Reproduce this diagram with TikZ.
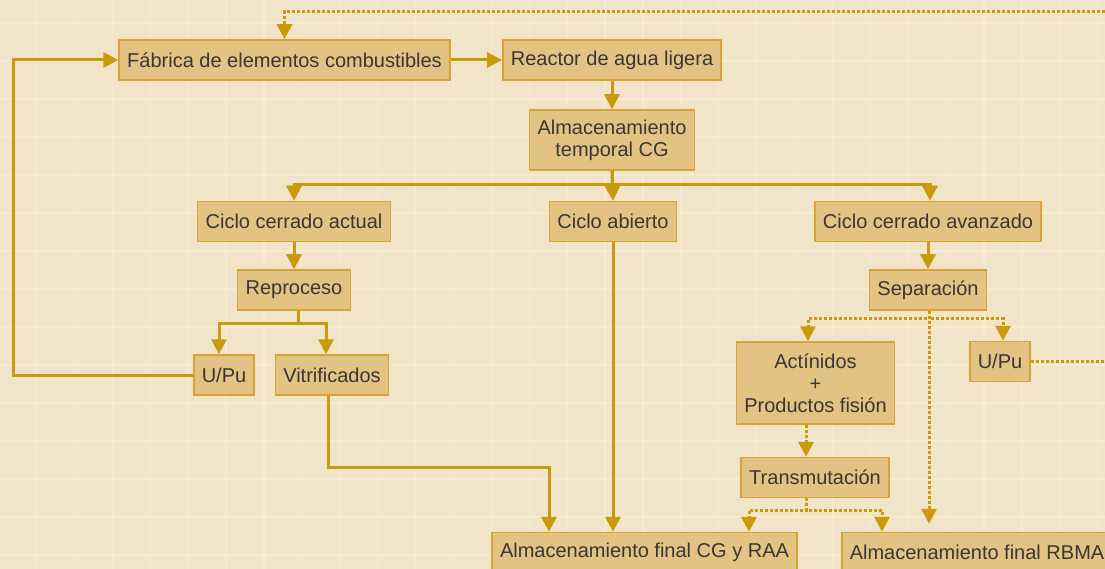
\documentclass[tikz,border=0pt]{standalone}
\usepackage{fontspec}
\setmainfont{Liberation Sans}
\usepackage{tikz}
\usetikzlibrary{arrows.meta, positioning}

\definecolor{bgcream}{HTML}{F2E4C8}
\definecolor{gridlight}{HTML}{F5EAD4}
\definecolor{boxfill}{HTML}{E3C383}
\definecolor{boxline}{HTML}{D6A435}
\definecolor{arrowgold}{HTML}{C99A0C}
\definecolor{textgray}{HTML}{3A3631}

\begin{document}
\begin{tikzpicture}[
			x=1pt, y=-1pt,
			box/.style={draw=boxline, fill=boxfill, line width=1.5pt, inner xsep=8pt,
				minimum height=40pt, align=center, text=textgray,
				font=\fontsize{20}{22}\selectfont},
			flow/.style={draw=arrowgold, line width=3pt, -{Triangle[length=15pt,width=15pt]}},
			dotflow/.style={flow, dotted},
			gridline/.style={draw=gridlight, line width=1.2pt},
			]
			
			\useasboundingbox (0,0) rectangle (1105,569);
			\clip (0,0) rectangle (1105,569);
			
			%% ── Background and grid ────────────────────────────────────────────
			\fill[bgcream] (0,0) rectangle (1105,569);
			\foreach \gx in {0,...,28} \draw[gridline] (36.5+37.9*\gx,0) -- ++(0,569);
			\foreach \gy in {0,...,14} \draw[gridline] (0,23+38*\gy) -- ++(1105,0);
			
			%% ── Top row ────────────────────────────────────────────────────────
			\node[box] (fab)     at (284.5,60) {Fábrica de elementos combustibles};
			\node[box] (reactor) at (612,60)   {Reactor de agua ligera};
			\node[box, minimum height=60pt] (temp) at (612,140) {Almacenamiento\\temporal CG};
			
			%% ── Three cycles ───────────────────────────────────────────────────
			\node[box] (actual)   at (294,221.5) {Ciclo cerrado actual};
			\node[box] (abierto)  at (613,221.5) {Ciclo abierto};
			\node[box] (avanzado) at (928,221.5) {Ciclo cerrado avanzado};
			
			\node[box] (repro) at (294,290) {Reproceso};
			\node[box] (sep)   at (928,290) {Separación};
			
			\node[box] (upuL)  at (224,375) {U/Pu};
			\node[box] (vitri) at (332,375) {Vitrificados};
			\node[box, minimum height=82pt] (actin) at (815.5,383) {Actínidos\\+\\Productos fisión};
			\node[box] (upuR)  at (1000,361.5) {U/Pu};
			\node[box] (trans) at (815,477.5) {Transmutación};
			
			%% ── Final storage ──────────────────────────────────────────────────
			\node[box] (finalcg) at (644.5,552.5) {Almacenamiento final CG y RAA};
			\node[box, anchor=west] (rbma) at (841,552.5) {Almacenamiento final RBMA};
			
			\coordinate (edgeT) at (1110,12);
			\coordinate (edgeR) at (1110,361.5);
			
			%% ── Solid connectors ───────────────────────────────────────────────
			\draw[flow] (fab) -- (reactor);
			\draw[flow] (reactor) -- (temp);
			\draw[flow] (temp.south) -- ++(0,14) -| (actual.north);
			\draw[flow] (temp.south) -- (abierto.north);
			\draw[flow] (temp.south) -- ++(0,14) -| ([xshift=2pt]avanzado.north);
			\draw[flow] (actual) -- (repro);
			\draw[flow] (avanzado) -- (sep);
			\draw[flow] ([xshift=4pt]repro.south) -- ++(0,13) -| ([xshift=-5pt]upuL.north);
			\draw[flow] ([xshift=4pt]repro.south) -- ++(0,13) -| ([xshift=-6pt]vitri.north);
			\draw[flow] (upuL.west) -- ++(-180,0) |- (fab.west);
			\draw[flow] ([xshift=-4pt]vitri.south) -- ++(0,72) -| ([xshift=-95.5pt]finalcg.north);
			\draw[flow] (abierto.south) -- (abierto.south |- finalcg.north);
			
			%% ── Dotted connectors ──────────────────────────────────────────────
			\draw[dotflow] ([xshift=1pt]sep.south) -- ++(0,8) -| ([xshift=-7.5pt]actin.north);
			\draw[dotflow] ([xshift=1pt]sep.south) -- ++(0,8) -| ([xshift=3pt]upuR.north);
			\draw[dotflow, shorten >=8pt] ([xshift=1pt]sep.south) -- ([xshift=1pt]sep.south |- rbma.north);
			\draw[dotflow] ([xshift=-9.5pt]actin.south) -- ([xshift=-9.5pt]actin.south |- trans.north);
			\draw[dotflow] ([xshift=-9pt]trans.south) -- ++(0,12) -| ([xshift=104.5pt]finalcg.north);
			\draw[dotflow] ([xshift=-9pt]trans.south) -- ++(0,12) -| ([xshift=41pt]rbma.north west);
			\draw[arrowgold, line width=3pt, dotted] (upuR.east) -- (edgeR);
			\draw[dotflow] (edgeT) -| (fab.north);
			
		\end{tikzpicture}
\end{document}
